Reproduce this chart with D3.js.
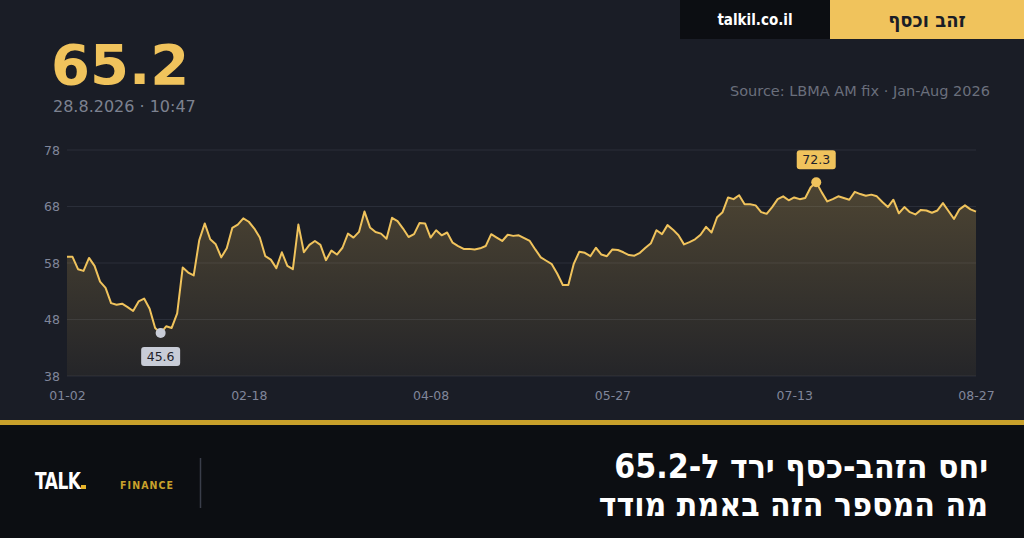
<!DOCTYPE html>
<html><head><meta charset="utf-8">
<script src="https://cdn.jsdelivr.net/npm/d3@7/dist/d3.min.js"></script>
<style>
html,body{margin:0;padding:0;background:#1a1d26;}
svg{display:block;}
</style></head>
<body>
<svg id="chart" width="1024" height="538"></svg>
<script>
// ---- data ----
const tickLabels = ["01-02","02-18","04-08","05-27","07-13","08-27"];
const tickIndex = [0,33,66,99,132,165];
const yTicks = [38,48,58,68,78];
const ratio = [
59.1,59.1,56.9,56.6,58.9,57.5,54.7,53.6,50.9,50.6,
50.8,50.2,49.5,51.2,51.7,49.9,46.5,45.6,46.8,46.5,
49.1,57.2,56.3,55.8,62.0,65.0,62.2,61.3,59.0,60.6,
64.2,64.8,65.9,65.3,64.1,62.5,59.2,58.6,57.1,59.9,
57.5,56.9,64.8,59.9,61.2,61.9,61.2,58.5,60.2,59.5,
60.7,63.2,62.5,63.5,67.1,64.3,63.5,63.2,62.3,66.0,
65.4,64.1,62.6,63.1,65.1,65.0,62.5,63.8,62.9,63.4,
61.6,61.0,60.5,60.5,60.4,60.6,61.0,63.1,62.5,61.9,
63.0,62.8,62.9,62.4,61.9,60.4,59.0,58.4,57.8,56.1,
54.1,54.1,57.9,60.0,59.8,59.2,60.7,59.5,59.2,60.4,
60.3,59.9,59.4,59.3,59.8,60.7,61.5,63.8,63.1,64.7,
63.9,62.9,61.3,61.7,62.2,63.0,64.4,63.4,66.1,67.0,
69.6,69.3,70.0,68.4,68.4,68.2,67.0,66.7,67.9,69.3,
69.8,69.1,69.6,69.3,69.5,71.4,72.3,70.5,68.9,69.3,
69.8,69.5,69.2,70.6,70.2,69.9,70.1,69.8,68.8,67.9,
69.2,66.8,67.9,67.0,66.6,67.4,67.3,66.9,67.3,68.6,
67.2,65.8,67.5,68.2,67.5,67.1
];
const headline = "65.2";
const stamp = "28.8.2026 · 10:47";
const source = "Source: LBMA AM fix · Jan-Aug 2026";
const titleLines = ["יחס הזהב-כסף ירד ל-65.2","מה המספר הזה באמת מודד"];

// ---- layout ----
const svg = d3.select("#chart");
const gold = "#f0c35c";
const L = 67, R = 976, T = 150, B = 376;

svg.append("rect").attr("width",1024).attr("height",538).attr("fill","#1a1d26");

const defs = svg.append("defs");
const grad = defs.append("linearGradient").attr("id","ag").attr("x1",0).attr("y1",0).attr("x2",0).attr("y2",1);
grad.append("stop").attr("offset","0%").attr("stop-color",gold).attr("stop-opacity",0.24);
grad.append("stop").attr("offset","100%").attr("stop-color",gold).attr("stop-opacity",0.05);

// header tabs
svg.append("rect").attr("x",680).attr("y",0).attr("width",150).attr("height",39).attr("fill","#0c0e12");
svg.append("rect").attr("x",830).attr("y",0).attr("width",194).attr("height",39).attr("fill",gold);
svg.append("text").attr("x",755).attr("y",25).attr("text-anchor","middle")
  .attr("font-family","DejaVu Sans Condensed").attr("font-weight","bold").attr("font-size",15)
  .attr("fill","#ffffff").text("talkil.co.il");
svg.append("text").attr("x",927).attr("y",27).attr("text-anchor","middle")
  .attr("font-family","DejaVu Sans Condensed").attr("font-weight","bold").attr("font-size",20)
  .attr("fill","#1a1d26").text("זהב וכסף");

svg.append("text").attr("x",51).attr("y",84)
  .attr("font-family","DejaVu Sans").attr("font-weight","bold").attr("font-size",56)
  .attr("fill",gold).text(headline);
svg.append("text").attr("x",53).attr("y",112)
  .attr("font-family","DejaVu Sans").attr("font-size",16)
  .attr("fill","#7d8290").text(stamp);
svg.append("text").attr("x",990).attr("y",96).attr("text-anchor","end")
  .attr("font-family","DejaVu Sans").attr("font-size",14.5)
  .attr("fill","#6a6f7c").text(source);

// scales
const x = d3.scaleLinear().domain([0, ratio.length-1]).range([L,R]);
const y = d3.scaleLinear().domain([38,78]).range([B,T]);

// grid
const g = svg.append("g");
g.selectAll("line.grid").data(yTicks).join("line")
  .attr("x1",L).attr("x2",R).attr("y1",d=>y(d)).attr("y2",d=>y(d))
  .attr("stroke","#2a2e39").attr("stroke-width",1);

// y axis
const yAxis = d3.axisLeft(y).tickValues(yTicks).tickSize(0).tickPadding(7);
const ya = svg.append("g").attr("transform",`translate(${L},0)`).call(yAxis);
ya.select(".domain").remove();
ya.selectAll("text").attr("font-family","DejaVu Sans").attr("font-size",12.5).attr("fill","#80869a");

// x axis
const xAxis = d3.axisBottom(x).tickValues(tickIndex).tickSize(0).tickPadding(15)
  .tickFormat((d,i)=>tickLabels[i]);
const xa = svg.append("g").attr("transform",`translate(0,${B})`).call(xAxis);
xa.select(".domain").remove();
xa.selectAll("text").attr("font-family","DejaVu Sans").attr("font-size",12.5).attr("fill","#80869a");

// area + line
const area = d3.area().x((d,i)=>x(i)).y0(B).y1(d=>y(d));
const line = d3.line().x((d,i)=>x(i)).y(d=>y(d));
svg.append("path").datum(ratio).attr("d",area).attr("fill","url(#ag)");
svg.append("path").datum(ratio).attr("d",line).attr("fill","none")
  .attr("stroke",gold).attr("stroke-width",2).attr("stroke-linejoin","round");

// min / max markers
const minV = d3.min(ratio), maxV = d3.max(ratio);
const iMin = ratio.indexOf(minV), iMax = ratio.indexOf(maxV);
function marker(i, v, fill, below){
  const cx = x(i), cy = y(v);
  svg.append("circle").attr("cx",cx).attr("cy",cy).attr("r",5).attr("fill",fill);
  const bw = 39, bh = 19;
  const by = below ? cy + 14 : cy - 13 - bh;
  svg.append("rect").attr("x",cx-bw/2).attr("y",by).attr("width",bw).attr("height",bh)
    .attr("rx",3).attr("fill",fill);
  svg.append("text").attr("x",cx).attr("y",by+14).attr("text-anchor","middle")
    .attr("font-family","DejaVu Sans").attr("font-size",12.5).attr("fill","#1f222b")
    .text(v.toFixed(1));
}
marker(iMin, minV, "#c8ccd7", true);
marker(iMax, maxV, gold, false);

// bottom band
svg.append("rect").attr("x",0).attr("y",420).attr("width",1024).attr("height",5).attr("fill","#c9a12b");
svg.append("rect").attr("x",0).attr("y",425).attr("width",1024).attr("height",113).attr("fill","#0c0e12");

svg.selectAll("text.title").data(titleLines).join("text").attr("class","title")
  .attr("x",988).attr("y",(d,i)=>478+i*38).attr("text-anchor","start").attr("direction","rtl")
  .attr("font-family","DejaVu Sans Condensed").attr("font-weight","bold").attr("font-size",33.5)
  .attr("fill","#ffffff").text(d=>d);

svg.append("text").attr("transform","translate(35,489) scale(0.82,1)")
  .attr("font-family","DejaVu Sans Condensed").attr("font-weight","bold").attr("font-size",23)
  .attr("fill","#ffffff").attr("letter-spacing",-0.5).text("TALK");
svg.append("rect").attr("x",81).attr("y",485).attr("width",5).attr("height",4).attr("fill","#e8b52a");
svg.append("text").attr("x",120).attr("y",489)
  .attr("font-family","DejaVu Sans Condensed").attr("font-weight","bold").attr("font-size",10.5)
  .attr("letter-spacing",1.1).attr("fill","#c9a12b").text("FINANCE");
svg.append("line").attr("x1",200.5).attr("x2",200.5).attr("y1",458).attr("y2",508)
  .attr("stroke","#3a3e4a").attr("stroke-width",1.5);
</script>
</body></html>
